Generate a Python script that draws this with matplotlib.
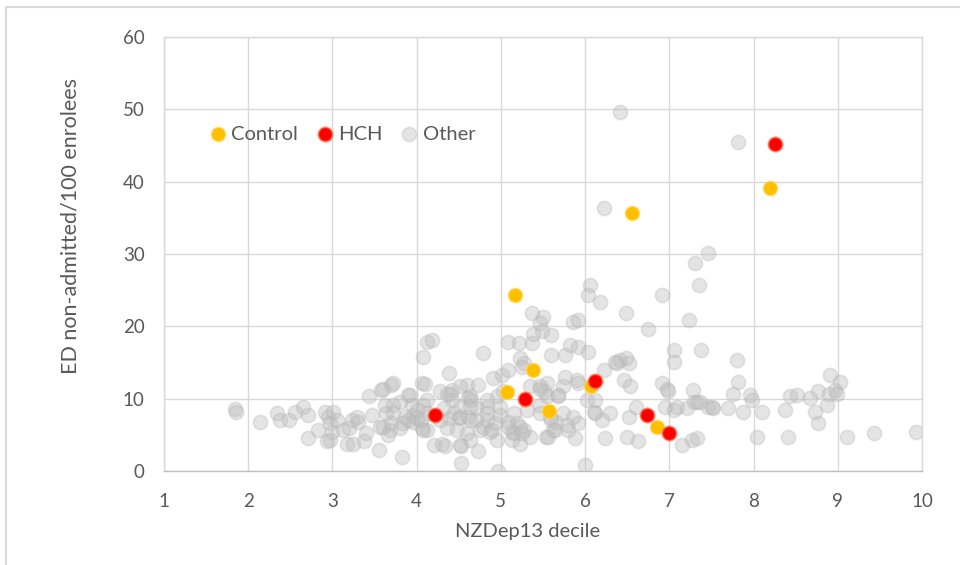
import matplotlib
matplotlib.use("Agg")
import matplotlib.pyplot as plt
from matplotlib.patches import Rectangle

plt.rcParams['font.family'] = ['Lato', 'DejaVu Sans']

# ---------------- data ----------------
control_x = [6.56, 8.19, 5.17, 5.38, 5.07, 5.57, 6.07, 6.85]
control_y = [35.7, 39.1, 24.4, 14.0, 10.9, 8.3, 11.8, 6.1]

hch_x = [8.25, 4.22, 5.29, 6.12, 6.73, 7.00]
hch_y = [45.2, 7.7, 9.9, 12.4, 7.7, 5.3]

other_points = [
    (1.84, 8.6), (1.85, 8.1), (2.14, 6.8), (2.34, 8.0), (2.38, 7.1), (2.48, 7.1), (2.56, 8.2),
    (2.65, 8.9), (2.71, 7.7), (2.71, 4.5), (2.83, 5.7), (2.91, 8.2), (2.95, 7.5), (2.97, 6.6),
    (2.93, 4.1), (2.99, 5.4), (3.01, 8.2), (3.17, 3.8), (3.23, 7.1), (3.29, 7.5), (3.25, 3.8),
    (3.37, 4.1), (3.13, 5.7), (3.43, 10.3), (3.47, 7.7), (3.57, 6.1), (3.55, 2.9), (3.58, 11.2),
    (3.70, 11.9), (3.64, 8.0), (3.68, 5.7), (3.83, 1.9), (3.72, 9.1), (3.05, 7.0), (2.97, 4.3),
    (3.20, 6.0), (3.30, 6.8), (3.40, 5.2),
    (3.62, 9.1), (3.80, 9.6), (3.92, 10.5), (3.94, 9.1), (4.08, 9.1), (4.28, 11.0), (4.42, 11.2),
    (4.52, 11.7), (4.60, 11.9), (4.73, 11.9), (4.42, 9.8), (4.61, 10.1), (3.72, 8.0), (3.86, 7.5),
    (3.96, 7.7), (3.70, 6.6), (3.84, 6.6), (3.96, 6.8), (3.60, 6.1), (3.66, 5.0), (4.06, 5.9),
    (4.12, 5.7), (4.20, 3.6), (4.30, 3.8), (4.38, 7.3), (4.50, 7.3), (4.61, 7.5), (4.71, 7.1),
    (4.83, 7.1), (4.36, 5.9), (4.48, 5.7), (4.60, 5.2), (4.75, 5.7), (4.87, 5.4), (4.52, 3.6),
    (4.63, 4.3), (4.73, 2.7), (4.53, 1.1), (4.97, 0.0), (4.93, 6.6), (4.99, 7.7), (4.83, 8.9),
    (4.71, 8.7), (4.52, 8.9), (4.32, 8.7), (4.63, 10.3), (4.65, 9.8), (3.60, 11.4), (3.72, 12.1),
    (4.06, 12.1), (4.10, 12.0), (4.38, 13.6), (4.12, 17.9), (4.18, 18.1), (4.08, 15.8), (4.79, 16.3),
    (3.90, 10.5), (4.12, 9.8), (4.36, 10.7), (4.44, 8.0), (4.52, 7.5), (4.63, 7.1), (4.08, 5.7),
    (4.12, 8.0), (4.28, 7.1), (4.63, 8.9), (4.83, 8.0), (4.99, 8.9), (4.79, 6.1), (4.89, 5.7),
    (4.34, 3.4), (4.53, 3.4), (4.95, 4.3), (4.00, 7.3), (3.90, 7.0), (3.80, 6.0), (4.00, 8.5),
    (4.05, 7.0),
    (5.09, 6.8), (5.19, 6.6), (5.27, 5.7), (5.13, 5.4), (5.13, 4.3), (5.23, 3.8), (5.35, 4.7),
    (5.54, 4.7), (5.62, 5.7), (5.58, 7.5), (5.66, 6.8), (5.47, 9.1), (5.55, 10.3), (4.91, 12.8),
    (5.01, 13.3), (5.09, 14.0), (5.35, 11.7), (5.47, 11.4), (5.55, 12.1), (5.37, 21.8), (5.50, 21.3),
    (5.47, 20.4), (5.38, 19.0), (5.49, 19.3), (5.60, 18.8), (5.09, 17.9), (5.21, 17.7), (5.37, 17.7),
    (5.23, 15.6), (5.60, 16.0), (5.27, 14.9), (5.25, 14.4), (5.03, 11.0), (5.51, 11.0), (5.74, 11.7),
    (5.68, 10.3), (4.40, 10.7), (4.95, 10.3), (4.83, 9.8), (5.15, 5.2), (5.25, 5.2), (5.15, 8.0),
    (5.31, 8.4), (5.09, 6.1), (5.23, 6.1), (5.47, 8.0), (5.60, 7.1), (5.74, 8.0), (5.86, 7.5),
    (5.92, 6.6), (5.80, 5.7), (5.64, 5.7), (5.56, 4.7), (5.88, 4.5), (5.82, 17.4), (5.92, 17.2),
    (5.76, 16.0), (6.04, 16.5), (5.86, 20.6), (5.92, 20.9), (5.76, 13.0), (5.90, 12.6), (5.92, 12.1),
    (5.47, 11.7), (5.68, 10.5), (6.02, 9.8), (6.00, 0.8), (5.78, 6.4),
    (6.22, 36.3), (6.42, 49.6), (6.06, 25.7), (6.04, 24.3), (6.18, 23.4), (6.91, 24.4), (6.48, 21.8),
    (7.23, 20.9), (6.75, 19.7), (7.46, 30.1), (7.31, 28.7), (7.35, 25.7), (7.05, 16.7), (7.38, 16.7),
    (7.05, 15.1), (6.22, 14.0), (6.36, 15.1), (6.42, 15.3), (6.48, 15.6), (6.52, 14.9), (6.46, 12.6),
    (6.53, 11.7), (6.91, 12.1), (6.97, 11.4), (7.28, 11.2), (6.12, 8.0), (6.20, 7.1), (6.30, 8.0),
    (6.50, 4.7), (6.63, 4.1), (6.24, 4.5), (6.52, 7.5), (6.61, 8.9), (6.95, 8.9), (7.05, 8.4),
    (7.09, 8.9), (7.21, 8.7), (7.29, 9.6), (7.46, 8.9), (7.52, 8.7), (7.15, 3.6), (7.27, 4.3),
    (7.33, 4.5), (6.10, 8.2), (6.12, 9.8), (6.99, 11.0), (7.33, 9.6), (6.38, 14.9),
    (7.82, 45.5), (7.80, 15.3), (7.82, 12.3), (7.76, 10.7), (7.96, 10.5), (7.37, 9.6), (7.51, 8.9),
    (7.70, 8.7), (7.88, 8.2), (7.98, 9.8), (8.10, 8.2), (8.04, 4.7), (8.41, 4.7), (8.37, 8.4),
    (8.43, 10.3), (8.51, 10.5), (8.67, 10.1), (8.73, 8.2), (8.77, 6.6), (8.77, 11.0), (8.89, 10.7),
    (8.87, 9.1), (8.91, 13.3), (9.03, 12.3), (8.97, 11.2), (8.99, 10.7), (9.11, 4.7), (9.43, 5.2),
    (9.93, 5.4),
]
other_x = [p[0] for p in other_points]
other_y = [p[1] for p in other_points]

x_ticks = [1, 2, 3, 4, 5, 6, 7, 8, 9, 10]
y_ticks = [0, 10, 20, 30, 40, 50, 60]

# ---------------- figure ----------------
fig = plt.figure(figsize=(9.6, 5.65), dpi=100)
fig.patch.set_facecolor('white')
fig.patches.append(Rectangle((6 / 960, -0.1), 1.2, 1 - 7 / 565 + 0.1, transform=fig.transFigure,
                             fill=False, edgecolor='#d9d9d9', linewidth=1.5, zorder=0))

ax = fig.add_axes([164 / 960, 1 - 471 / 565, (922 - 164) / 960, (471 - 37) / 565])

ms = 105
ax.scatter(other_x, other_y, s=ms, facecolor=(0.75, 0.75, 0.75, 0.42),
           edgecolor=(0.70, 0.70, 0.70, 0.32), linewidth=1.2, zorder=2, label='Other')
ax.scatter(control_x, control_y, s=ms, facecolor='#ffc000',
           edgecolor=(1.0, 0.85, 0.4, 0.6), linewidth=1.2, zorder=3, label='Control')
ax.scatter(hch_x, hch_y, s=ms, facecolor='#ff0000',
           edgecolor=(1.0, 0.45, 0.3, 0.55), linewidth=1.5, zorder=4, label='HCH')

ax.set_xlim(1, 10)
ax.set_ylim(0, 60)
ax.set_xticks(x_ticks)
ax.set_yticks(y_ticks)
ax.grid(True, color='#d9d9d9', linewidth=1.0, zorder=0)
ax.set_axisbelow(True)
for side in ['top', 'right', 'left']:
    ax.spines[side].set_color('#d9d9d9')
    ax.spines[side].set_linewidth(1.0)
ax.spines['bottom'].set_color('#bfbfbf')
ax.spines['bottom'].set_linewidth(1.0)
ax.tick_params(axis='both', length=0, colors='#595959', labelsize=13.5)
ax.tick_params(axis='x', pad=16)
ax.tick_params(axis='y', pad=14)

ax.set_xlabel('NZDep13 decile', fontsize=14.5, color='#595959')
ax.xaxis.set_label_coords(0.48, -0.12)
ax.set_ylabel('ED non-admitted/100 enrolees', fontsize=15.5, color='#595959')
ax.yaxis.set_label_coords(-0.11, 0.565)

handles, labels = ax.get_legend_handles_labels()
order = [labels.index('Control'), labels.index('HCH'), labels.index('Other')]
leg = ax.legend([handles[i] for i in order], [labels[i] for i in order], ncol=3,
                loc='center left', bbox_to_anchor=(0.06, 0.776), frameon=False,
                fontsize=14.5, labelcolor='#595959', handlelength=0.8, handletextpad=0.25,
                columnspacing=0.95, borderaxespad=0, borderpad=0)

fig.savefig('out.png', dpi=100, facecolor='white')
